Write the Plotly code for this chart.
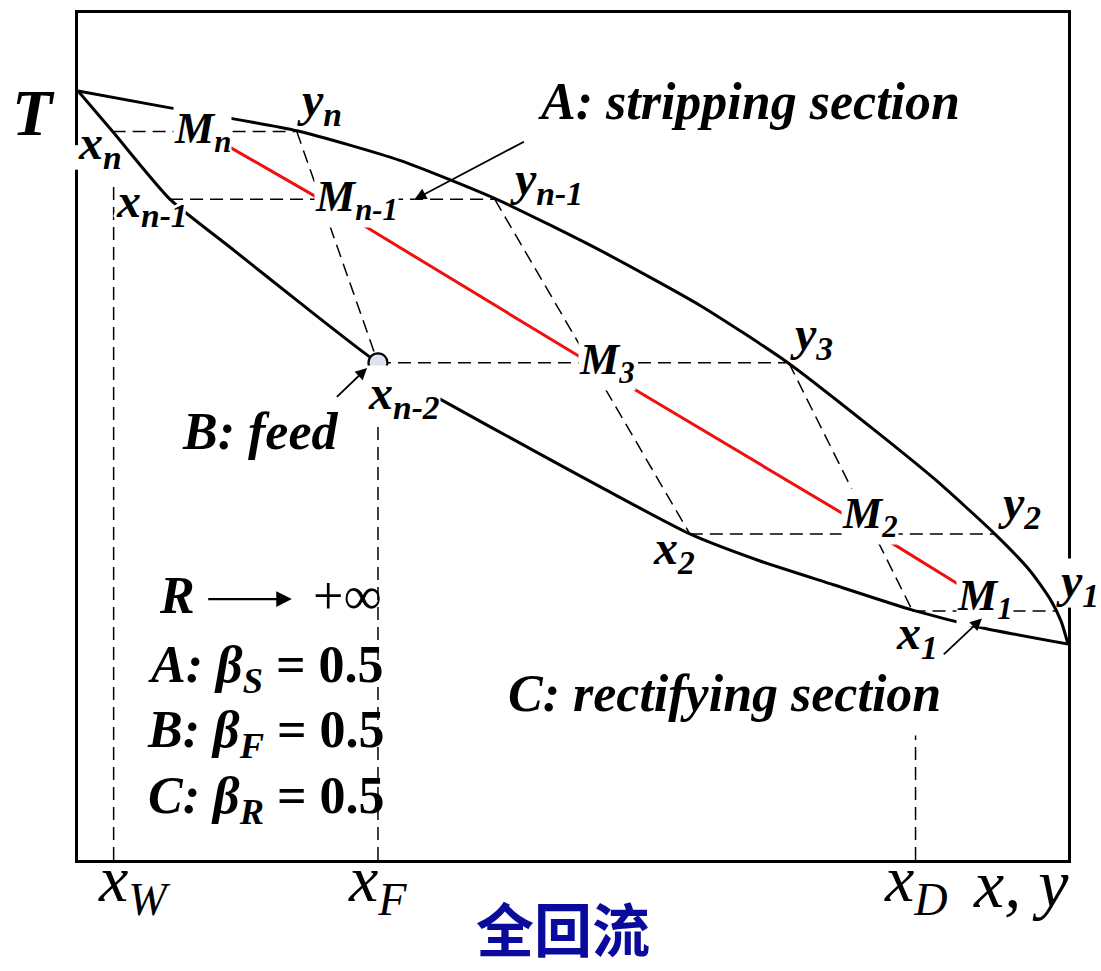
import plotly.graph_objects as go

# Phase envelope of a binary mixture: normalized composition (x, y) vs temperature T
bubble_x = [0.000, 0.035, 0.093, 0.153, 0.224, 0.303, 0.369, 0.464, 0.530, 0.618, 0.689, 0.763, 0.843, 0.914, 1.000]
bubble_T = [0.908, 0.860, 0.780, 0.724, 0.658, 0.587, 0.542, 0.481, 0.439, 0.385, 0.353, 0.325, 0.295, 0.274, 0.255]
dew_x = [0.000, 0.093, 0.221, 0.325, 0.423, 0.527, 0.628, 0.716, 0.803, 0.866, 0.926, 0.962, 0.982, 0.993, 1.000]
dew_T = [0.908, 0.888, 0.861, 0.826, 0.780, 0.720, 0.655, 0.588, 0.509, 0.449, 0.385, 0.341, 0.308, 0.282, 0.255]

# Stages (top of column first): temperature, liquid x_k, vapour y_k, mixing point M_k
stage_T = [0.860, 0.780, 0.587, 0.385, 0.294]
stage_x = [0.035, 0.093, 0.303, 0.618, 0.843]
stage_y = [0.221, 0.421, 0.718, 0.926, 0.989]
mix_x = [0.126, 0.245, 0.517, 0.807, 0.933]

liquid_labels = ["x<sub>n</sub>", "x<sub>n-1</sub>", "x<sub>n-2</sub>", "x<sub>2</sub>", "x<sub>1</sub>"]
vapour_labels = ["y<sub>n</sub>", "y<sub>n-1</sub>", "y<sub>3</sub>", "y<sub>2</sub>", "y<sub>1</sub>"]
mix_labels = ["M<sub>n</sub>", "M<sub>n-1</sub>", "M<sub>3</sub>", "M<sub>2</sub>", "M<sub>1</sub>"]

# Product / feed compositions and the height of their guide lines
x_W, x_F, x_D = 0.036, 0.303, 0.846
guide_top = {"W": 0.795, "F": 0.587, "D": 0.147}

FONT = "Liberation Serif, Times New Roman, Times, serif"
HALO = ", ".join(f"{a}px {b}px 0 white" for a, b in
                 [(3, 0), (-3, 0), (0, 3), (0, -3), (2, 2), (-2, 2), (2, -2), (-2, -2)])

fig = go.Figure()

# dashed construction lines: tie lines, stage-to-stage diagonals, composition guides
dx, dy = [], []
for xl, yv, t in zip(stage_x, stage_y, stage_T):
    dx += [xl, yv, None]
    dy += [t, t, None]
for i in range(len(stage_T) - 2):
    dx += [stage_y[i], stage_x[i + 2], None]
    dy += [stage_T[i], stage_T[i + 2], None]
for key, xv in (("W", x_W), ("F", x_F), ("D", x_D)):
    dx += [xv, xv, None]
    dy += [0, guide_top[key], None]
fig.add_trace(go.Scatter(x=dx, y=dy, mode="lines",
                         line=dict(color="black", width=1.5, dash="13px,7px")))

# dew and bubble curves
for cx, cy in ((dew_x, dew_T), (bubble_x, bubble_T)):
    fig.add_trace(go.Scatter(x=cx, y=cy, mode="lines",
                             line=dict(color="black", width=3, shape="spline", smoothing=0.6)))

# line through the mixing points
fig.add_trace(go.Scatter(x=mix_x, y=stage_T, mode="lines",
                         line=dict(color="#f01010", width=3)))

# feed point
fig.add_trace(go.Scatter(x=[stage_x[2]], y=[stage_T[2]], mode="markers",
                         marker=dict(size=19, color="#dce3ef", line=dict(color="black", width=2.2))))

ann = []


def label(x, y, text, size, xs=0, ys=0, bg=None, halo=False, bold=True, italic=True,
          ref="x", color="black", family=FONT):
    font = dict(family=family, size=size, color=color,
                weight="bold" if bold else "normal",
                style="italic" if italic else "normal")
    if halo:
        font["shadow"] = HALO
    ann.append(dict(
        x=x, y=y, xref=ref, yref="y" if ref == "x" else "paper", text=text, showarrow=False,
        xshift=xs, yshift=ys, xanchor="center", yanchor="middle",
        bgcolor=bg if bg else "rgba(0,0,0,0)", borderpad=0, font=font))


# stage labels, offset in pixels from their points
liq_off = [(-13, -14), (-18, -5), (26, -33), (-16, -17), (4, -25)]
vap_off = [(23, 29), (52, 17), (23, 26), (25, 28), (20, 27)]
mix_off = [(0, 0), (36, 0), (17, 0), (-7, 17), (-17, 12)]
liq_style = [dict(), dict(halo=True), dict(bg="white"), dict(), dict()]
for i in range(len(stage_T)):
    label(stage_x[i], stage_T[i], liquid_labels[i], 48, *liq_off[i], **liq_style[i])
    label(stage_y[i], stage_T[i], vapour_labels[i], 48, *vap_off[i])
    label(mix_x[i], stage_T[i], mix_labels[i], 44, *mix_off[i], bg="white")

# section notes
label(0.678, 0.895, "A: stripping section", 52, ref="paper")
label(0.184, 0.506, "B: feed", 52, ref="paper")
label(0.653, 0.197, "C: rectifying section", 52, ref="paper")
label(-0.045, 0.882, "T", 66, ref="paper")

# reflux condition and section parameters
label(0.100, 0.312, "R", 52, ref="paper")
label(0.272, 0.312, "+∞", 54, ref="paper", bold=False, italic=False)
for yv, sec, sub in ((0.226, "A", "S"), (0.149, "B", "F"), (0.071, "C", "R")):
    label(0.190, yv, f"<i>{sec}: β</i><sub><i>{sub}</i></sub> = 0.5", 52, ref="paper", italic=False)

# composition axis labels
label(x_W, -0.028, "x<sub>W</sub>", 66, xs=20, ref="paper", bold=False)
label(x_F, -0.028, "x<sub>F</sub>", 66, ref="paper", bold=False)
label(x_D, -0.028, "x<sub>D</sub>", 66, ref="paper", bold=False)
label(0.953, -0.028, "x, y", 68, ref="paper", bold=False)
label(0.490, -0.079, "全回流", 58, ref="paper", italic=False, color="#0a0a9c",
      family="Noto Sans CJK SC")

# pointer arrows: (tail, head, line width)
arrows = [((0.452, 0.849), (0.340, 0.780), 1.8),
          ((0.260, 0.545), (0.292, 0.581), 1.8),
          ((0.873, 0.241), (0.913, 0.285), 1.8),
          ((0.130, 0.308), (0.216, 0.308), 2.4)]
for (tx, ty), (hx, hy), w in arrows:
    ann.append(dict(x=hx, y=hy, ax=tx, ay=ty, xref="x", yref="y", axref="x", ayref="y",
                    text="", showarrow=True, arrowhead=2, arrowsize=1.3,
                    arrowwidth=w, arrowcolor="black"))

# breaks in the frame behind the x_n and y_1 labels
shapes = [dict(type="rect", xref="paper", yref="paper", x0=-0.006, x1=0.006, y0=0.815, y1=0.844,
               fillcolor="white", line=dict(width=0), layer="above"),
          dict(type="rect", xref="paper", yref="paper", x0=0.994, x1=1.006, y0=0.298, y1=0.356,
               fillcolor="white", line=dict(width=0), layer="above")]

fig.update_layout(
    width=1101, height=971,
    margin=dict(l=78, r=33, t=10, b=111),
    paper_bgcolor="white", plot_bgcolor="white",
    showlegend=False,
    annotations=ann,
    shapes=shapes,
    xaxis=dict(range=[0, 1], showgrid=False, zeroline=False, showticklabels=False,
               ticks="", showline=True, mirror=True, linewidth=3, linecolor="black"),
    yaxis=dict(range=[0, 1], showgrid=False, zeroline=False, showticklabels=False,
               ticks="", showline=True, mirror=True, linewidth=3, linecolor="black"),
)

fig.write_html("out.html")
